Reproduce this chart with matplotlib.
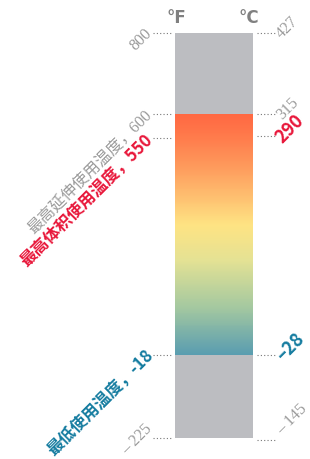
import numpy as np
import matplotlib
matplotlib.use("Agg")
from matplotlib import pyplot as plt
from matplotlib.colors import LinearSegmentedColormap

# temperature scale (F on the left, C on the right)
f_top, f_bottom = 800, -225
f_grad_top, f_grad_bottom = 600, -18
left_vals = [800, 600, 550, -18, -225]
left_labels = ["800", "最高延伸使用温度，600", "最高体积使用温度，550", "最低使用温度，-18", "– 225"]
right_vals_c = [427, 315, 290, -28, -145]
right_labels = ["427", "315", "290", "–28", "– 145"]
label_kind = ["plain", "plain", "red", "blue", "plain"]

grad_colors = ["#ff6842", "#fe9a5c", "#fee383", "#e4e294", "#a4c8a0", "#5a9db0"]
grad_stops = [0.0, 0.2, 0.45, 0.6, 0.8, 1.0]

# the chart is not drawn to a linear scale: knots of the piecewise axis
scale_f = [-300, -225, -18, 550, 600, 800, 900]
scale_pos = [-30.1, 0, 83, 300, 324, 405, 445.5]

GRAY = "#bcbdc1"
RED = "#e8173a"
BLUE = "#157ca0"
LIGHT = "#9a9a9a"


def c_to_f(c):
    return c * 9 / 5 + 32


def fwd(v):
    return np.interp(v, scale_f, scale_pos)


def inv(p):
    return np.interp(p, scale_pos, scale_f)


fig = plt.figure(figsize=(3.1, 4.6), dpi=100)
ax = fig.add_axes([0, 0, 1, 1])
ax.set_yscale("function", functions=(fwd, inv))
ax.set_ylim(inv(-21), inv(439))
ax.set_xlim(-175 / 78, (310 - 175) / 78)
ax.axis("off")

# gray bar pieces
ax.bar(0.5, f_top - f_grad_top, bottom=f_grad_top, width=1, color=GRAY)
ax.bar(0.5, f_grad_bottom - f_bottom, bottom=f_bottom, width=1, color=GRAY)

# gradient section (drawn as thin bands so it follows the axis scale)
cmap = LinearSegmentedColormap.from_list("g", list(zip(grad_stops, grad_colors)))
edges = np.linspace(f_grad_top, f_grad_bottom, 241)
for i in range(len(edges) - 1):
    ax.bar(0.5, edges[i + 1] - edges[i], bottom=edges[i], width=1,
           color=cmap(i / (len(edges) - 2)), linewidth=0, zorder=2)

# header
ax.text(0.02, inv(439 - 18), "°F", ha="center", va="center", fontsize=12,
        fontweight="bold", color="#808080", family="DejaVu Sans")
ax.text(0.95, inv(439 - 18), "°C", ha="center", va="center", fontsize=12,
        fontweight="bold", color="#808080", family="DejaVu Sans")

styles = {
    "plain": dict(color=LIGHT, fontsize=11.5, family=["Liberation Serif", "Noto Sans CJK SC"],
                  fontweight="light"),
    "red": dict(color=RED, fontsize=12, family=["Noto Sans CJK SC", "DejaVu Sans"], fontweight="bold"),
    "blue": dict(color=BLUE, fontsize=12, family=["Noto Sans CJK SC", "DejaVu Sans"], fontweight="bold"),
}
left_dy = [3, 2, 2, 4, 12]
right_dy = [-2, -2, -3, -2, 8]

# left ticks and labels
for v, lab, k, dy in zip(left_vals, left_labels, label_kind, left_dy):
    ax.plot([-22 / 78, -3 / 78], [v, v], color="#777777", lw=0.8, ls=(0, (1, 2)))
    ax.text(-25 / 78, inv(fwd(v) + dy), lab, rotation=45, rotation_mode="anchor",
            ha="right", va="center", **styles[k])

# right ticks and labels
for c, lab, k, dy in zip(right_vals_c, right_labels, label_kind, right_dy):
    v = c_to_f(c)
    ax.plot([1 + 4 / 78, 1 + 22 / 78], [v, v], color="#777777", lw=0.8, ls=(0, (1, 2)))
    fs = 13 if k != "plain" else 11.5
    st = dict(styles[k], fontsize=fs)
    ax.text(1 + 26 / 78, inv(fwd(v) + dy), lab, rotation=45, rotation_mode="anchor",
            ha="left", va="center", **st)

fig.savefig("out.png", dpi=100)
